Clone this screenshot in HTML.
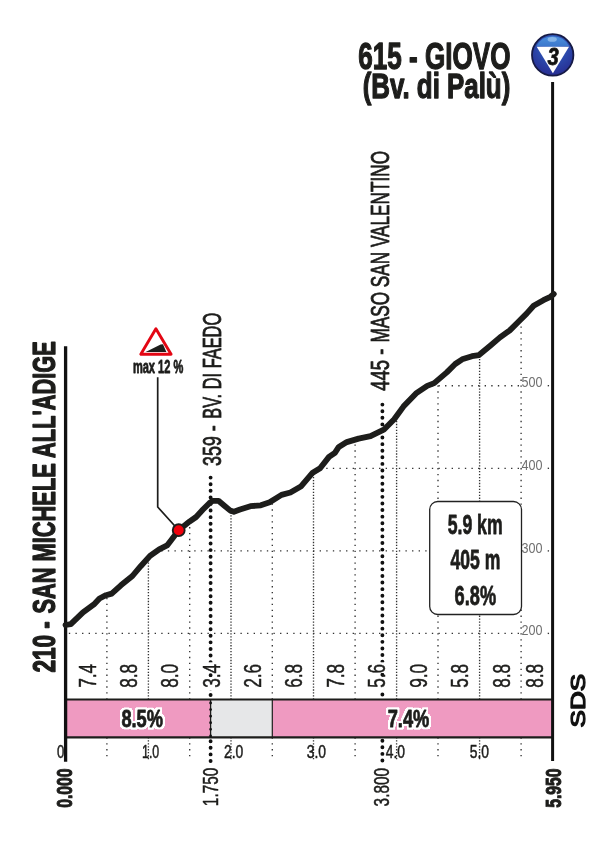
<!DOCTYPE html>
<html><head><meta charset="utf-8"><title>Giovo</title>
<style>
html,body{margin:0;padding:0;background:#fff}
svg{display:block;will-change:transform;opacity:0.999}
text{font-family:"Liberation Sans",sans-serif;fill:#1d1d1b;stroke:#1d1d1b;stroke-width:0.5;stroke-linejoin:round}
.s{stroke-width:0.85}
.b{font-weight:bold}
.g{stroke:#333;stroke-width:1.35;stroke-dasharray:1.35 4.55;fill:none}
.gh{stroke:#333;stroke-width:1.35;stroke-dasharray:1.35 5.25;fill:none}
.g2{stroke:#333;stroke-width:1.35;stroke-dasharray:1.3 1.65;fill:none}
.b{stroke:#1d1d1b;stroke-width:0.8;stroke-linejoin:round}
.t{stroke-width:1.3}
.hd{stroke:#111;stroke-width:3.9;stroke-dasharray:0.01 6.58;stroke-linecap:round;fill:none}
</style></head><body>
<svg width="607" height="852" viewBox="0 0 607 852">
<defs>
<radialGradient id="bg" cx="50%" cy="30%" r="75%"><stop offset="0" stop-color="#3a6fca"/><stop offset="0.5" stop-color="#2b48ab"/><stop offset="1" stop-color="#27298e"/></radialGradient>
<linearGradient id="bt" x1="0" y1="0" x2="0" y2="1"><stop offset="0" stop-color="#4a8fdc"/><stop offset="1" stop-color="#3c78cc"/></linearGradient>
<filter id="halo" x="-25%" y="-25%" width="150%" height="150%" color-interpolation-filters="sRGB">
<feMorphology in="SourceAlpha" operator="dilate" radius="2.1" result="d"/>
<feGaussianBlur in="d" stdDeviation="0.6" result="db"/>
<feComponentTransfer in="db" result="dt"><feFuncA type="linear" slope="6" intercept="-2.2"/></feComponentTransfer>
<feFlood flood-color="#fff" result="w"/>
<feComposite in="w" in2="dt" operator="in" result="h"/>
<feMerge><feMergeNode in="h"/><feMergeNode in="SourceGraphic"/></feMerge>
</filter>
</defs>
<rect width="607" height="852" fill="#fff"/>

<line class="g" x1="106.9" y1="699.5" x2="106.9" y2="596.9"/>
<line class="g" x1="106.9" y1="737.3" x2="106.9" y2="760"/>
<line class="g2" x1="148.4" y1="699.5" x2="148.4" y2="559.7"/>
<line class="g2" x1="148.4" y1="737.3" x2="148.4" y2="760"/>
<line class="g" x1="189.7" y1="699.5" x2="189.7" y2="523.5"/>
<line class="g" x1="189.7" y1="737.3" x2="189.7" y2="760"/>
<line class="g2" x1="231.0" y1="699.5" x2="231.0" y2="512.8"/>
<line class="g2" x1="231.0" y1="737.3" x2="231.0" y2="760"/>
<line class="g" x1="272.3" y1="699.5" x2="272.3" y2="502.7"/>
<line class="g" x1="272.3" y1="737.3" x2="272.3" y2="760"/>
<line class="g2" x1="313.5" y1="699.5" x2="313.5" y2="474.2"/>
<line class="g2" x1="313.5" y1="737.3" x2="313.5" y2="760"/>
<line class="g" x1="355.1" y1="699.5" x2="355.1" y2="441.6"/>
<line class="g" x1="355.1" y1="737.3" x2="355.1" y2="760"/>
<line class="g2" x1="396.6" y1="699.5" x2="396.6" y2="418.0"/>
<line class="g2" x1="396.6" y1="737.3" x2="396.6" y2="760"/>
<line class="g" x1="438.0" y1="699.5" x2="438.0" y2="381.9"/>
<line class="g" x1="438.0" y1="737.3" x2="438.0" y2="760"/>
<line class="g2" x1="479.6" y1="699.5" x2="479.6" y2="356.6"/>
<line class="g2" x1="479.6" y1="737.3" x2="479.6" y2="760"/>
<line class="g" x1="521.1" y1="699.5" x2="521.1" y2="321.1"/>
<line class="g" x1="521.1" y1="737.3" x2="521.1" y2="760"/>
<line class="gh" x1="519" y1="633.4" x2="65.5" y2="633.4"/>
<line class="gh" x1="547.7" y1="633.4" x2="551" y2="633.4"/>
<text x="521.6" y="635.1" font-size="14.4" style="fill:#6f6f6f;stroke:none" textLength="21" lengthAdjust="spacingAndGlyphs">200</text>
<line class="gh" x1="519" y1="550.9" x2="157.0" y2="550.9"/>
<line class="gh" x1="547.7" y1="550.9" x2="551" y2="550.9"/>
<text x="521.6" y="552.6" font-size="14.4" style="fill:#6f6f6f;stroke:none" textLength="21" lengthAdjust="spacingAndGlyphs">300</text>
<line class="gh" x1="519" y1="468.3" x2="319.9" y2="468.3"/>
<line class="gh" x1="547.7" y1="468.3" x2="551" y2="468.3"/>
<text x="521.6" y="470.0" font-size="14.4" style="fill:#6f6f6f;stroke:none" textLength="21" lengthAdjust="spacingAndGlyphs">400</text>
<line class="gh" x1="519" y1="385.7" x2="427.7" y2="385.7"/>
<line class="gh" x1="547.7" y1="385.7" x2="551" y2="385.7"/>
<text x="521.6" y="387.4" font-size="14.4" style="fill:#6f6f6f;stroke:none" textLength="21" lengthAdjust="spacingAndGlyphs">500</text>
<line class="hd" x1="210.6" y1="477.6" x2="210.6" y2="764"/>
<line class="hd" x1="382.4" y1="404.6" x2="382.4" y2="764"/>
<rect x="65.5" y="699.5" width="487" height="37.799999999999955" fill="#ef9ac1"/>
<rect x="210.6" y="699.5" width="61.7" height="37.799999999999955" fill="#e6e7e8"/>
<line x1="272.3" y1="699.5" x2="272.3" y2="737.3" stroke="#1d1d1b" stroke-width="1.2"/>
<line x1="65" y1="699.5" x2="553" y2="699.5" stroke="#1d1d1b" stroke-width="2.0"/>
<line x1="65" y1="737.3" x2="553" y2="737.3" stroke="#1d1d1b" stroke-width="2.2"/>
<line x1="210.6" y1="699.5" x2="210.6" y2="737.3" stroke="#1d1d1b" stroke-width="1.3"/>
<line class="hd" x1="210.6" y1="703.0" x2="210.6" y2="737.3" style="stroke-width:2.8"/>
<text class="b" filter="url(#halo)" x="121.4" y="726.9" font-size="24.8" textLength="41.6" lengthAdjust="spacingAndGlyphs">8.5%</text>
<text class="b" filter="url(#halo)" x="387.7" y="726.9" font-size="24.8" textLength="41.6" lengthAdjust="spacingAndGlyphs">7.4%</text>
<text transform="translate(95.5,687.8) rotate(-90)" font-size="23.6" textLength="24" lengthAdjust="spacingAndGlyphs">7.4</text>
<text transform="translate(136.9,687.8) rotate(-90)" font-size="23.6" textLength="24" lengthAdjust="spacingAndGlyphs">8.8</text>
<text transform="translate(178.4,687.8) rotate(-90)" font-size="23.6" textLength="24" lengthAdjust="spacingAndGlyphs">8.0</text>
<rect x="200.7" y="677.2" width="21.5" height="13.2" fill="#fff"/>
<rect x="200.7" y="662.3" width="21.5" height="10.7" fill="#fff"/>
<text transform="translate(219.7,687.8) rotate(-90)" font-size="23.6" textLength="24" lengthAdjust="spacingAndGlyphs">3.4</text>
<text transform="translate(261.0,687.8) rotate(-90)" font-size="23.6" textLength="24" lengthAdjust="spacingAndGlyphs">2.6</text>
<text transform="translate(302.3,687.8) rotate(-90)" font-size="23.6" textLength="24" lengthAdjust="spacingAndGlyphs">6.8</text>
<text transform="translate(343.5,687.8) rotate(-90)" font-size="23.6" textLength="24" lengthAdjust="spacingAndGlyphs">7.8</text>
<rect x="366.1" y="677.2" width="21.5" height="13.2" fill="#fff"/>
<rect x="366.1" y="662.3" width="21.5" height="10.7" fill="#fff"/>
<text transform="translate(385.1,687.8) rotate(-90)" font-size="23.6" textLength="24" lengthAdjust="spacingAndGlyphs">5.6</text>
<text transform="translate(426.6,687.8) rotate(-90)" font-size="23.6" textLength="24" lengthAdjust="spacingAndGlyphs">9.0</text>
<text transform="translate(468.0,687.8) rotate(-90)" font-size="23.6" textLength="24" lengthAdjust="spacingAndGlyphs">5.8</text>
<text transform="translate(509.6,687.8) rotate(-90)" font-size="23.6" textLength="24" lengthAdjust="spacingAndGlyphs">8.8</text>
<text transform="translate(543.0,687.8) rotate(-90)" font-size="23.6" textLength="24" lengthAdjust="spacingAndGlyphs">8.8</text>
<text x="57.0" y="758" font-size="18.4" textLength="7.3" lengthAdjust="spacingAndGlyphs">0</text>
<text x="142.0" y="758" font-size="18.4" textLength="17.2" lengthAdjust="spacingAndGlyphs">1.0</text>
<text x="224.0" y="758" font-size="18.4" textLength="19.3" lengthAdjust="spacingAndGlyphs">2.0</text>
<text x="306.7" y="758" font-size="18.4" textLength="19.3" lengthAdjust="spacingAndGlyphs">3.0</text>
<text x="385.7" y="758" font-size="18.4" textLength="19.3" lengthAdjust="spacingAndGlyphs">4.0</text>
<text x="469.8" y="758" font-size="18.4" textLength="19.3" lengthAdjust="spacingAndGlyphs">5.0</text>
<text class="b" style="stroke-width:1.0" transform="translate(71.6,807.8) rotate(-90)" font-size="21.6" textLength="39.4" lengthAdjust="spacingAndGlyphs">0.000</text>
<text transform="translate(218.1,806.2) rotate(-90)" font-size="22.8" textLength="38.6" lengthAdjust="spacingAndGlyphs">1.750</text>
<text transform="translate(388.8,806.4) rotate(-90)" font-size="22.8" textLength="38.6" lengthAdjust="spacingAndGlyphs">3.800</text>
<text class="b" style="stroke-width:1.0" transform="translate(560.6,807.8) rotate(-90)" font-size="21.6" textLength="39.4" lengthAdjust="spacingAndGlyphs">5.950</text>
<text transform="translate(584.6,727.4) rotate(-90)" font-size="19.8" textLength="53.6" lengthAdjust="spacingAndGlyphs" style="fill:#111;stroke:#111;stroke-width:1.25;stroke-linecap:round">SDS</text>
<line x1="65.6" y1="346.2" x2="65.6" y2="761.8" stroke="#111" stroke-width="3.3"/>
<line x1="552.6" y1="82" x2="552.6" y2="761" stroke="#111" stroke-width="3.0"/>
<text class="b" style="stroke-width:1.3" transform="translate(54.8,672.6) rotate(-90)" font-size="30.8" textLength="51.5" lengthAdjust="spacingAndGlyphs">210 -</text>
<text class="b" style="stroke-width:1.3" transform="translate(54.8,613.6) rotate(-90)" font-size="30.8" textLength="272.4" lengthAdjust="spacingAndGlyphs">SAN MICHELE ALL'ADIGE</text>
<text class="s" transform="translate(221.2,465.9) rotate(-90)" font-size="26.2" textLength="40.6" lengthAdjust="spacingAndGlyphs">359 -</text>
<text class="s" transform="translate(221.2,418.8) rotate(-90)" font-size="26.2" textLength="106" lengthAdjust="spacingAndGlyphs">BV. DI FAEDO</text>
<text class="s" transform="translate(389.1,390.7) rotate(-90)" font-size="26.2" textLength="42" lengthAdjust="spacingAndGlyphs">445 -</text>
<text class="s" transform="translate(389.1,342.6) rotate(-90)" font-size="26.2" textLength="191.6" lengthAdjust="spacingAndGlyphs">MASO SAN VALENTINO</text>
<text class="b t" x="358.3" y="68.7" font-size="37.4" textLength="152.2" lengthAdjust="spacingAndGlyphs">615 - GIOVO</text>
<text class="b t" x="362.7" y="98.0" font-size="34.5" textLength="147.6" lengthAdjust="spacingAndGlyphs">(Bv. di Palù)</text>
<rect x="429.7" y="501.5" width="91.8" height="113" rx="8" ry="8" fill="#fff" stroke="#222" stroke-width="1.3"/>
<text class="b" x="447.7" y="533.5" font-size="28.2" textLength="54.9" lengthAdjust="spacingAndGlyphs">5.9 km</text>
<text class="b" x="450.4" y="569.3" font-size="28.2" textLength="49.9" lengthAdjust="spacingAndGlyphs">405 m</text>
<text class="b" x="454.6" y="604.6" font-size="28.2" textLength="41.5" lengthAdjust="spacingAndGlyphs">6.8%</text>
<polygon points="155.9,328.8 140.8,354.3 171.1,354.3" fill="#fff" stroke="#e30613" stroke-width="2.9" stroke-linejoin="round"/>
<polygon points="145.6,351.9 166.4,351.9 163,344.2 160.6,344.4" fill="#1d1d1b"/>
<text class="b" x="132.9" y="372.7" font-size="17.5" textLength="50.4" lengthAdjust="spacingAndGlyphs">max 12 %</text>
<polyline points="157.7,377.3 157.7,507 178.7,530.2" fill="none" stroke="#1d1d1b" stroke-width="1.7"/>
<polyline points="65.5,625 70.8,624.2 83,612.3 93.9,604.4 99.5,598.5 106,595.2 111.7,593.6 120.9,585.3 132.4,576 140.7,566.2 150,555.9 159.2,549.3 167.1,545.4 171.7,539.4 178.7,530.2 189.5,521.6 196.1,517 202.7,509.8 209.3,503.2 212.6,500.8 218.5,500.8 223.8,505.2 230,510.4 233.9,511.8 240,509.6 250.4,506.2 260.8,505.3 269.7,502.3 281.5,494.9 290.4,492.5 300.8,486.6 312.7,472.7 320.1,468.2 329,456.9 334.9,452.8 338.8,446.9 346.8,442.1 358.6,438.6 370.5,436.2 383.8,429.7 394.2,419.3 403.4,406.6 416,393.4 427.2,385.9 434.2,383.1 446.8,372.4 455.2,364 462.2,359.3 472,356.2 479,355.1 490.2,345.8 500,337.4 509.8,330.4 518.2,322 526.6,313.6 533.6,305.8 543.4,300.2 550.4,296.8 553.8,294" fill="none" stroke="#1d1d1b" stroke-width="5.8" stroke-linejoin="round" stroke-linecap="round"/>
<circle cx="178.7" cy="530.2" r="5.95" fill="#f0000c" stroke="#1d1d1b" stroke-width="1.9"/>
<circle cx="552.7" cy="54.9" r="20.7" fill="url(#bg)" stroke="#161a45" stroke-width="1.8"/>
<path d="M536.2,46.2 A18.6,18.6 0 0 1 569.2,46.2 Z" fill="url(#bt)"/>
<ellipse cx="552.2" cy="39.4" rx="4.6" ry="2.3" fill="#9cc4ee" opacity="0.75"/>
<polygon points="536.7,46.7 569,46.7 552.9,73.2" fill="#fff"/>
<text class="b" x="547.6" y="65.2" font-size="23.6" font-style="italic" textLength="11.2" lengthAdjust="spacingAndGlyphs" style="fill:#111">3</text>
</svg></body></html>
